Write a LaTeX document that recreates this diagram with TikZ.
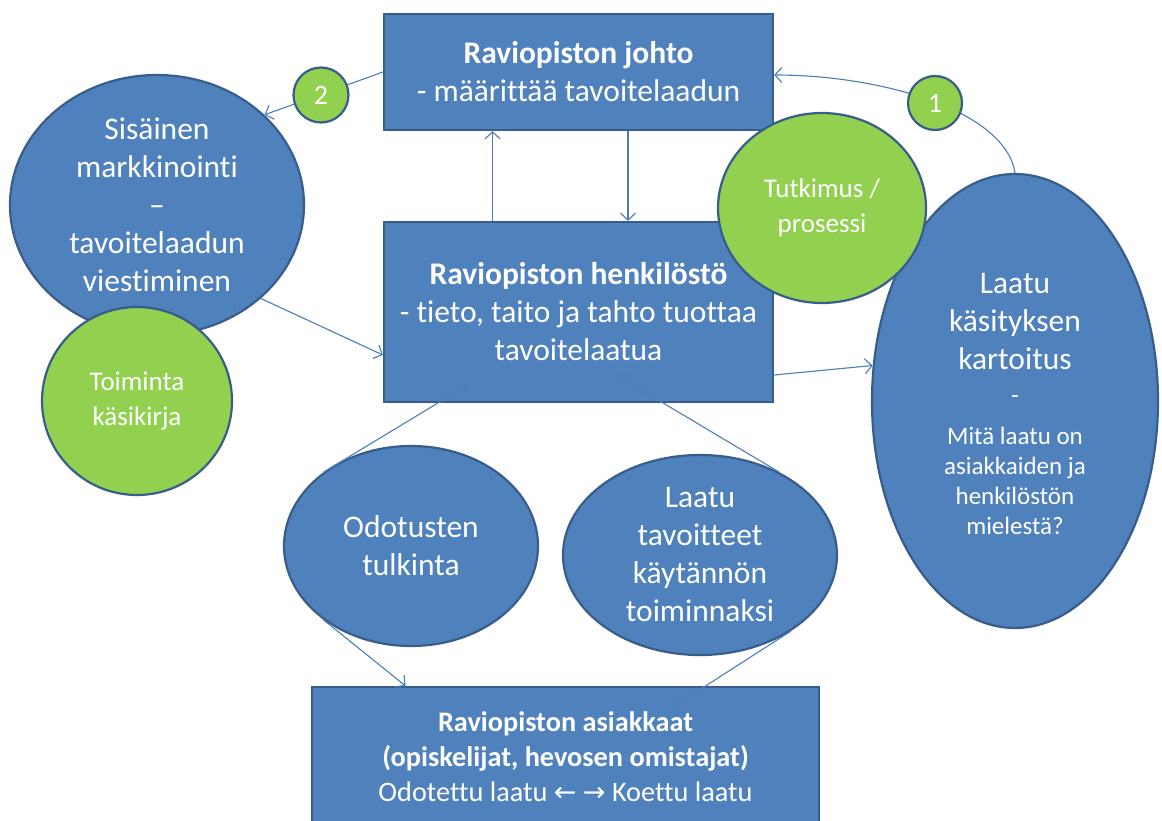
\documentclass[tikz,border=0pt]{standalone}
\usepackage{fontspec}
\setmainfont{Carlito}[Ligatures={NoCommon}]
\newfontfamily\arrowfont{DejaVu Sans}
\usetikzlibrary{shapes.geometric,arrows.meta}
\definecolor{boxblue}{HTML}{4F81BD}
\definecolor{edgeblue}{HTML}{385D8A}
\definecolor{leafgreen}{HTML}{92D050}
\definecolor{linkblue}{HTML}{4A7EBB}
\begin{document}
\begin{tikzpicture}[x=1pt,y=-1pt,
  box/.style={rectangle, draw=edgeblue, line width=2.2pt, fill=boxblue, text=white, align=center, inner sep=0pt},
  oval/.style={ellipse, draw=edgeblue, line width=2.2pt, fill=boxblue, text=white, align=center, inner sep=0pt},
  greenoval/.style={oval, fill=leafgreen},
  badge/.style={circle, draw=edgeblue, line width=2.2pt, fill=leafgreen, text=white, minimum size=55pt, inner sep=0pt, font=\fontsize{28}{32}\selectfont},
  link/.style={draw=linkblue, line width=1.1pt, -{Straight Barb[length=7pt,width=15pt]}},
  label/.style={text=white, align=center, inner sep=0pt},
  bigtext/.style={font=\fontsize{31.5}{38}\selectfont},
  midtext/.style={font=\fontsize{28.3}{35}\selectfont},
  greentext/.style={font=\fontsize{27}{35}\selectfont},
  subtext/.style={font=\fontsize{25}{30}\selectfont},
]
\useasboundingbox (0,0) rectangle (1162,821);
\clip (0,0) rectangle (1162,821);

% management, staff and customers
\node[box, bigtext, minimum width=389pt, minimum height=116pt] (johto) at (578.5,72)
  {\textbf{Raviopiston johto}\\- määrittää tavoitelaadun};
\node[box, bigtext, minimum width=389pt, minimum height=180pt] (henk) at (578.5,312)
  {\textbf{Raviopiston henkilöstö}\\- tieto, taito ja tahto tuottaa\\tavoitelaatua};
\node[box, midtext, minimum width=507pt, minimum height=140pt] (asiak) at (565.5,757)
  {\textbf{Raviopiston asiakkaat}\\\textbf{(opiskelijat, hevosen omistajat)}\\Odotettu laatu {\arrowfont\fontsize{27}{30}\selectfont ←} {\arrowfont\fontsize{27}{30}\selectfont →} Koettu laatu};

% process ovals
\node[oval, bigtext, minimum width=294pt, minimum height=260pt] (sis) at (157,205)
  {Sisäinen\\markkinointi\\–\\tavoitelaadun\\viestiminen};
\node[oval, minimum width=286pt, minimum height=454pt] (laatu) at (1015,401) {};
\node[label, bigtext] (laatutop) at (1015,322) {Laatu\\käsityksen\\kartoitus};
\node[label, subtext] (laatudash) at (1015,400) {-};
\node[label, subtext] (laatusub) at (1015,481) {Mitä laatu on\\asiakkaiden ja\\henkilöstön\\mielestä?};
\node[oval, bigtext, minimum width=254pt, minimum height=200pt] (odo) at (411,546)
  {Odotusten\\tulkinta};
\node[oval, bigtext, minimum width=274pt, minimum height=200pt] (lt) at (700,555)
  {Laatu\\tavoitteet\\käytännön\\toiminnaksi};

% connectors
\draw[link] (johto.west) -- (sis.40);
\draw[link] (laatu.north) .. controls (1005,110) and (880,75) .. ([yshift=-3pt]johto.east);
\draw[link] ([xshift=-86pt]henk.north) -- ([xshift=-86pt]johto.south);
\draw[link] ([xshift=49.5pt]johto.south) -- ([xshift=49.5pt]henk.north);
\draw[link] (sis.-42) -- ([yshift=-43pt]henk.west);
\draw[link] ([yshift=-63pt]henk.east) -- (laatu.166);
\draw[link] (odo.140) -- ([shift={(-111pt,18pt)}]henk.south);
\draw[link] (lt.46) -- ([shift={(39.5pt,27pt)}]henk.south);
\draw[link] (odo.-140) -- ([xshift=-160pt]asiak.north);
\draw[link] (lt.-40) -- ([shift={(107.5pt,-21pt)}]asiak.north);

% green ovals and step badges
\node[greenoval, greentext, minimum width=190pt, minimum height=188pt] (toim) at (137,401)
  {Toiminta\\käsikirja};
\node[greenoval, greentext, minimum width=208pt, minimum height=190pt] (tut) at (822,208)
  {Tutkimus /\\prosessi};
\node[badge] (c2) at (321,95) {2};
\node[badge, minimum size=54pt] (c1) at (935,103) {1};
\end{tikzpicture}
\end{document}
